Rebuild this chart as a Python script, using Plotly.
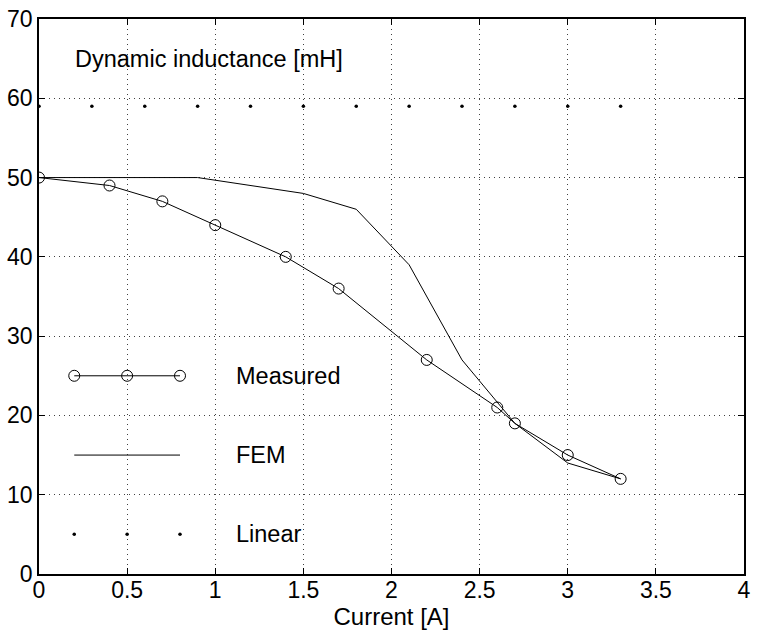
import plotly.graph_objects as go

meas_x = [0, 0.4, 0.7, 1.0, 1.4, 1.7, 2.2, 2.6, 2.7, 3.0, 3.3]
meas_y = [50, 49, 47, 44, 40, 36, 27, 21, 19, 15, 12]
fem_x = [0, 0.9, 1.5, 1.8, 2.1, 2.4, 2.7, 3.0, 3.3]
fem_y = [50, 50, 48, 46, 39, 27, 19, 14, 12]
lin_x = [0, 0.3, 0.6, 0.9, 1.2, 1.5, 1.8, 2.1, 2.4, 2.7, 3.0, 3.3]
lin_y = [59] * 12

leg_x = [0.2, 0.5, 0.8]
leg_meas_y = [25, 25, 25]
leg_fem_y = [15, 15, 15]
leg_lin_y = [5, 5, 5]

x_ticks = [0, 0.5, 1, 1.5, 2, 2.5, 3, 3.5, 4]
x_tick_text = ["0", "0.5", "1", "1.5", "2", "2.5", "3", "3.5", "4"]
y_ticks = [0, 10, 20, 30, 40, 50, 60, 70]

FONT = "Liberation Sans, Arial, Helvetica, sans-serif"

fig = go.Figure()
fig.add_trace(go.Scatter(x=fem_x, y=fem_y, mode="lines",
                         line=dict(color="black", width=1)))
fig.add_trace(go.Scatter(x=meas_x, y=meas_y, mode="lines+markers",
                         line=dict(color="black", width=1),
                         marker=dict(symbol="circle-open", size=11, color="black",
                                     line=dict(width=1, color="black"))))
fig.add_trace(go.Scatter(x=lin_x, y=lin_y, mode="markers",
                         marker=dict(symbol="circle", size=3.5, color="black")))
# in-axes legend
fig.add_trace(go.Scatter(x=leg_x, y=leg_meas_y, mode="lines+markers",
                         line=dict(color="black", width=1),
                         marker=dict(symbol="circle-open", size=11, color="black",
                                     line=dict(width=1, color="black"))))
fig.add_trace(go.Scatter(x=[leg_x[0], leg_x[-1]], y=[leg_fem_y[0], leg_fem_y[-1]], mode="lines",
                         line=dict(color="black", width=1)))
fig.add_trace(go.Scatter(x=leg_x, y=leg_lin_y, mode="markers",
                         marker=dict(symbol="circle", size=3.5, color="black")))

texts = [(1.11, 25, "Measured"), (1.11, 15, "FEM"), (1.11, 5, "Linear"),
         (0.2, 65, "Dynamic inductance [mH]")]
for tx, ty, t in texts:
    fig.add_annotation(x=tx, y=ty, text=t, xref="x", yref="y", showarrow=False,
                       xanchor="left", yanchor="middle", xshift=-1,
                       font=dict(family=FONT, size=23.5, color="black"))

axis_common = dict(
    showline=True, linecolor="black", linewidth=1.5, mirror="ticks",
    ticks="inside", ticklen=6, tickcolor="black", tickwidth=1,
    showgrid=True, gridcolor="rgba(0,0,0,0.75)", gridwidth=1, griddash="1px,4px",
    zeroline=False,
    tickfont=dict(family=FONT, size=23, color="black"),
)

fig.update_xaxes(range=[0, 4], tickvals=x_ticks, ticktext=x_tick_text,
                 ticklabelstandoff=-5,
                 title=dict(text="Current [A]", standoff=0,
                            font=dict(family=FONT, size=24, color="black")),
                 **axis_common)
fig.update_yaxes(range=[0, 70], tickvals=y_ticks, ticklabelstandoff=0, **axis_common)

fig.update_layout(
    width=757, height=635,
    margin=dict(l=39, r=6, t=14, b=61),
    paper_bgcolor="white", plot_bgcolor="white",
    showlegend=False,
    font=dict(family=FONT, color="black"),
)

fig.write_html("out.html")
